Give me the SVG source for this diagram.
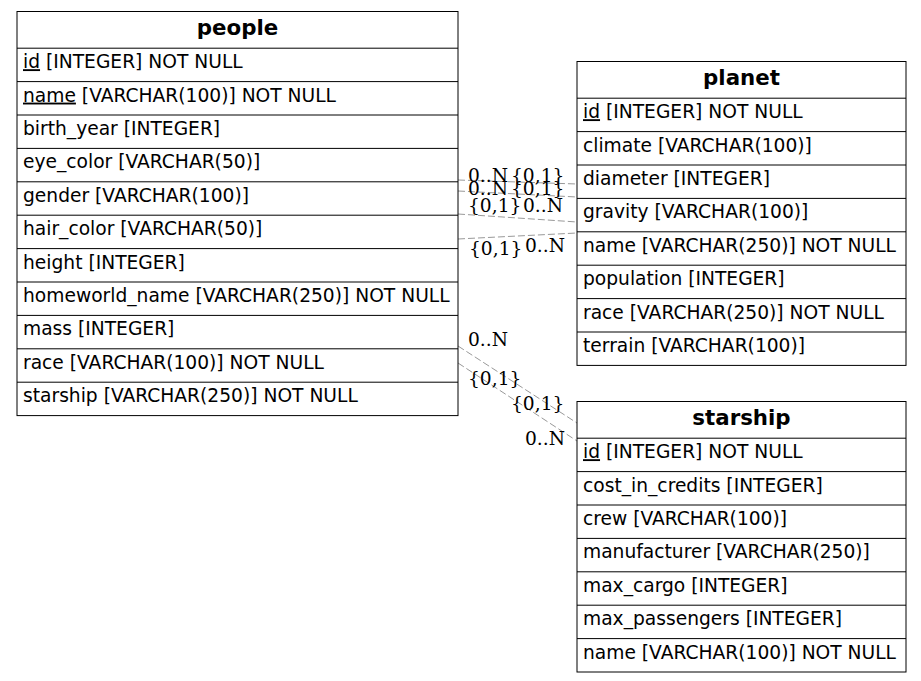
<svg xmlns="http://www.w3.org/2000/svg" width="921" height="681" viewBox="0 0 921 681">
<style>
.bg{fill:#ffffff}
.box{fill:#ffffff;stroke:#000000;stroke-width:1}
.sep{stroke:#000000;stroke-width:1}
.t{font-family:"DejaVu Sans","Liberation Sans",sans-serif;font-size:18.67px;fill:#000000}
.h{font-family:"DejaVu Sans","Liberation Sans",sans-serif;font-size:21.33px;font-weight:bold;fill:#000000;text-anchor:middle}
.u{text-decoration:underline}
.e{fill:none;stroke:#999999;stroke-width:1;stroke-dasharray:7,3}
.l{font-family:"DejaVu Serif","Liberation Serif",serif;font-size:18.67px;fill:#000000}
</style>
<rect class="bg" x="0" y="0" width="921" height="681"/>
<g id="connectors">
<path class="e" d="M458,180 L577,184"/>
<path class="e" d="M458,191 L577,197"/>
<path class="e" d="M458,214 L577,222"/>
<path class="e" d="M458,239 L577,233"/>
<path class="e" d="M458,346 L577,423"/>
<path class="e" d="M458,363 L577,441"/>
<text class="l" x="468" y="182">0..N</text>
<text class="l" x="511" y="182">{0,1}</text>
<text class="l" x="468" y="195">0..N</text>
<text class="l" x="511" y="195">{0,1}</text>
<text class="l" x="468" y="212">{0,1}</text>
<text class="l" x="523" y="212">0..N</text>
<text class="l" x="469" y="255">{0,1}</text>
<text class="l" x="525" y="252">0..N</text>
<text class="l" x="468" y="346">0..N</text>
<text class="l" x="468" y="385">{0,1}</text>
<text class="l" x="511" y="410">{0,1}</text>
<text class="l" x="525" y="445">0..N</text>
</g>
<g id="people">
<rect class="box" x="17" y="11.5" width="441" height="404.1"/>
<path class="sep" d="M17,48.2H458M17,81.6H458M17,115H458M17,148.4H458M17,181.8H458M17,215.2H458M17,248.6H458M17,282H458M17,315.4H458M17,348.8H458M17,382.2H458"/>
<text class="h" x="237.5" y="35">people</text>
<text class="t" x="23" y="68.2"><tspan class="u">id</tspan> [INTEGER] NOT NULL</text>
<text class="t" x="23" y="101.6"><tspan class="u">name</tspan> [VARCHAR(100)] NOT NULL</text>
<text class="t" x="23" y="135">birth_year [INTEGER]</text>
<text class="t" x="23" y="168.4">eye_color [VARCHAR(50)]</text>
<text class="t" x="23" y="201.8">gender [VARCHAR(100)]</text>
<text class="t" x="23" y="235.2">hair_color [VARCHAR(50)]</text>
<text class="t" x="23" y="268.6">height [INTEGER]</text>
<text class="t" x="23" y="302">homeworld_name [VARCHAR(250)] NOT NULL</text>
<text class="t" x="23" y="335.4">mass [INTEGER]</text>
<text class="t" x="23" y="368.8">race [VARCHAR(100)] NOT NULL</text>
<text class="t" x="23" y="402.2">starship [VARCHAR(250)] NOT NULL</text>
</g>
<g id="planet">
<rect class="box" x="577" y="61.5" width="329" height="303.9"/>
<path class="sep" d="M577,98.2H906M577,131.6H906M577,165H906M577,198.4H906M577,231.8H906M577,265.2H906M577,298.6H906M577,332H906"/>
<text class="h" x="741.5" y="85">planet</text>
<text class="t" x="583" y="118.2"><tspan class="u">id</tspan> [INTEGER] NOT NULL</text>
<text class="t" x="583" y="151.6">climate [VARCHAR(100)]</text>
<text class="t" x="583" y="185">diameter [INTEGER]</text>
<text class="t" x="583" y="218.4">gravity [VARCHAR(100)]</text>
<text class="t" x="583" y="251.8">name [VARCHAR(250)] NOT NULL</text>
<text class="t" x="583" y="285.2">population [INTEGER]</text>
<text class="t" x="583" y="318.6">race [VARCHAR(250)] NOT NULL</text>
<text class="t" x="583" y="352">terrain [VARCHAR(100)]</text>
</g>
<g id="starship">
<rect class="box" x="577" y="401.5" width="329" height="270.5"/>
<path class="sep" d="M577,438.2H906M577,471.6H906M577,505H906M577,538.4H906M577,571.8H906M577,605.2H906M577,638.6H906"/>
<text class="h" x="741.5" y="425">starship</text>
<text class="t" x="583" y="458.2"><tspan class="u">id</tspan> [INTEGER] NOT NULL</text>
<text class="t" x="583" y="491.6">cost_in_credits [INTEGER]</text>
<text class="t" x="583" y="525">crew [VARCHAR(100)]</text>
<text class="t" x="583" y="558.4">manufacturer [VARCHAR(250)]</text>
<text class="t" x="583" y="591.8">max_cargo [INTEGER]</text>
<text class="t" x="583" y="625.2">max_passengers [INTEGER]</text>
<text class="t" x="583" y="658.6">name [VARCHAR(100)] NOT NULL</text>
</g>
</svg>
